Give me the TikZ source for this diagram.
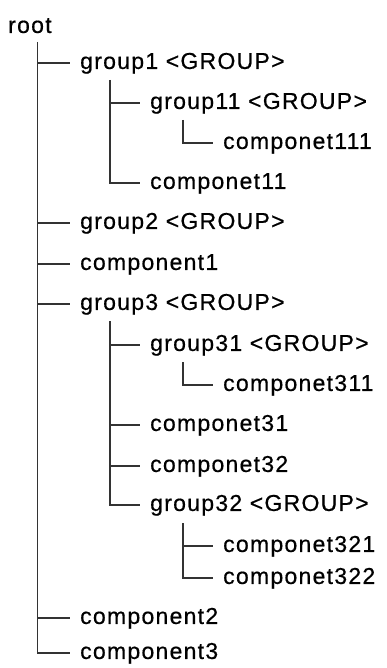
\documentclass[tikz,border=0pt]{standalone}
\usepackage{fontspec}
\setmainfont{Liberation Sans}[LetterSpace=5.5,FakeBold=0.6]
\begin{document}
\begin{tikzpicture}[x=1pt,y=-1pt,
  lbl/.style={anchor=west, inner xsep=10pt, inner ysep=0pt, text height=11.9pt, text depth=0pt,
    font=\fontsize{23}{27}\selectfont, text=black},
  conn/.style={draw=black!80, line width=1.7pt}]
\useasboundingbox (0,0) rectangle (386,668);
% nodes
\node[lbl, inner xsep=0pt] (root) at (8,27) {root};
\node[lbl] (g1)   at (70,63)  {group1 <GROUP>};
\node[lbl] (g11)  at (140,103) {group11 <GROUP>};
\node[lbl] (c111) at (213,143) {componet111};
\node[lbl] (c11)  at (140,183) {componet11};
\node[lbl] (g2)   at (70,223)  {group2 <GROUP>};
\node[lbl] (cp1)  at (70,264)  {component1};
\node[lbl] (g3)   at (70,304)  {group3 <GROUP>};
\node[lbl] (g31)  at (140,345) {group31 <GROUP>};
\node[lbl] (c311) at (213,385) {componet311};
\node[lbl] (c31)  at (140,425) {componet31};
\node[lbl] (c32)  at (140,466) {componet32};
\node[lbl] (g32)  at (140,505) {group32 <GROUP>};
\node[lbl] (c321) at (213,546) {componet321};
\node[lbl] (c322) at (213,578) {componet322};
\node[lbl] (cp2)  at (70,618)  {component2};
\node[lbl] (cp3)  at (70,653)  {component3};
% stems
\coordinate (s0)  at (37.5,42);
\coordinate (s1)  at (110,80);
\coordinate (s11) at (183,120);
\coordinate (s3)  at (110,321);
\coordinate (s31) at (183,362);
\coordinate (s32) at (183,523);
% connectors
\draw[conn] (s0) |- (cp3.west);
\foreach \n in {g1,g2,cp1,g3,cp2} \draw[conn] (s0 |- \n.west) -- (\n.west);
\draw[conn] (s1) |- (c11.west);
\draw[conn] (s1 |- g11.west) -- (g11.west);
\draw[conn] (s11) |- (c111.west);
\draw[conn] (s3) |- (g32.west);
\foreach \n in {g31,c31,c32} \draw[conn] (s3 |- \n.west) -- (\n.west);
\draw[conn] (s31) |- (c311.west);
\draw[conn] (s32) |- (c322.west);
\draw[conn] (s32 |- c321.west) -- (c321.west);
\end{tikzpicture}
\end{document}
